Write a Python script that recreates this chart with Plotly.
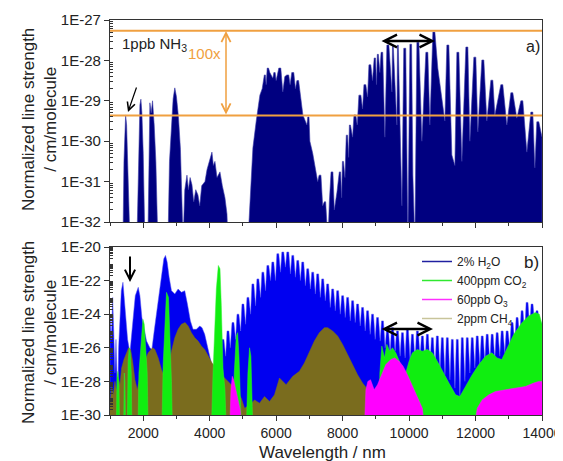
import numpy as np
import plotly.graph_objects as go

# ---------------- data (wavelength nm, log10 line strength) ----------------
nh3 = [
(1390,-32.5),(1420,-30.5),(1470,-29.35),(1500,-29.6),(1540,-30.8),(1600,-32.5),
(1810,-32.5),(1850,-30.5),(1900,-29.1),(1930,-28.96),(1960,-29.3),(2000,-30.3),(2050,-32.5),
(2140,-32.5),(2170,-30.0),(2200,-29.05),(2240,-29.3),(2280,-29.0),(2330,-29.6),(2380,-30.5),(2440,-32.5),
(2745,-32.5),(2790,-30.5),(2850,-29.5),(2900,-28.95),(2950,-28.68),(3000,-28.9),(3060,-29.4),(3120,-30.2),(3200,-32.5),
(3250,-31.2),(3316,-30.84),(3360,-31.2),(3410,-30.9),(3467,-31.08),(3520,-31.5),(3580,-31.2),(3647,-31.33),
(3700,-31.6),(3760,-31.1),(3858,-31.0),(3920,-30.7),(3990,-30.5),(4068,-30.27),(4110,-30.6),(4158,-30.5),
(4220,-30.9),(4309,-30.76),(4380,-31.1),(4459,-31.4),(4520,-31.8),(4550,-32.5),
(5150,-32.5),(5300,-30.17),(5400,-29.5),(5510,-28.86),(5580,-28.7),(5660,-28.36),(5700,-28.6),(5750,-28.19),
(5810,-28.3),(5900,-28.44),(5950,-28.3),(6000,-28.5),(6110,-28.19),(6200,-28.78),(6260,-28.4),(6350,-28.36),
(6420,-28.6),(6500,-28.3),(6580,-28.7),(6650,-28.5),(6715,-28.78),(6805,-29.35),(6925,-29.6),(6970,-29.4),
(7015,-30.0),(7100,-30.3),(7170,-30.6),(7250,-31.0),(7320,-30.84),(7400,-31.6),(7470,-31.5),(7520,-32.5),
(7560,-32.5),(7600,-31.5),(7680,-30.76),(7750,-31.7),(7830,-31.26),(7920,-30.76),(7970,-31.4),(8010,-30.5),
(8070,-30.9),(8130,-29.85),(8180,-30.4),(8220,-29.6),(8300,-29.9),(8370,-29.35),(8440,-29.6),(8520,-28.86),
(8600,-29.2),(8670,-28.6),(8750,-28.9),(8820,-28.11),(8900,-28.5),(8970,-27.94),(9020,-28.6),(9060,-27.85),
(9120,-28.3),(9182,-27.8),(9272,-29.9),(9362,-27.62),(9483,-28.78),(9513,-27.65),(9633,-29.6),(9663,-27.62),
(9783,-31.6),(9870,-27.7),(9964,-32.5),(10050,-27.6),(10114,-30.84),(10174,-32.5),(10265,-27.55),(10385,-30.0),
(10535,-27.8),(10626,-29.6),(10746,-27.3),(10866,-28.2),(11017,-29.1),(11077,-29.5),(11167,-27.62),(11287,-30.34),
(11378,-30.6),(11468,-27.8),(11588,-30.5),(11739,-27.67),(11829,-30.0),(11979,-27.92),(12069,-29.77),(12220,-27.99),
(12340,-29.5),(12491,-28.49),(12581,-29.35),(12791,-28.6),(12942,-29.6),(13092,-28.8),(13243,-29.43),(13393,-29.0),
(13544,-30.27),(13694,-29.28),(13784,-30.66),(13874,-29.52),(13965,-29.77),(14000,-29.9),
]

h2o = [
(1000,-24.2),(1040,-25.5),(1080,-23.0),(1110,-24.9),(1150,-27.5),(1180,-25.5),(1230,-29.3),(1260,-26.0),
(1300,-24.0),(1340,-22.6),(1390,-22.1),(1430,-23.0),(1480,-24.5),(1530,-25.5),(1600,-26.3),(1650,-25.2),
(1700,-24.0),(1760,-22.9),(1850,-22.4),(1900,-22.9),(1960,-24.2),(2030,-25.0),(2100,-25.6),(2200,-26.0),
(2260,-26.1),(2330,-25.0),(2400,-24.0),(2480,-22.8),(2560,-21.4),(2620,-20.7),(2670,-20.5),(2720,-20.9),
(2780,-21.8),(2850,-22.6),(2950,-22.8),(3050,-22.5),(3150,-22.7),(3250,-22.6),(3330,-23.4),(3420,-24.4),
(3500,-24.9),(3600,-24.9),(3700,-24.7),(3770,-24.8),(3850,-25.2),(3950,-26.1),(4070,-27.1),(4150,-27.3),
(4300,-27.5),(4400,-25.5),(4480,-26.5),(4550,-25.0),(4620,-26.0),(4700,-24.5),(4780,-25.5),(4850,-24.0),
(4930,-25.0),(5000,-23.4),(5080,-24.6),(5150,-23.0),(5230,-24.0),(5300,-22.2),(5380,-23.5),(5450,-21.9),
(5530,-23.0),(5600,-21.5),(5680,-22.6),(5750,-21.1),(5830,-22.0),(5900,-20.9),(5980,-22.0),(6050,-20.4),
(6130,-21.5),(6200,-20.3),(6280,-21.2),(6350,-20.3),(6430,-21.6),(6500,-20.5),(6580,-21.8),(6650,-20.8),
(6730,-22.0),(6800,-20.9),(6880,-22.3),(6950,-21.3),(7030,-22.5),(7100,-21.5),(7180,-22.8),(7250,-21.6),
(7330,-23.0),(7400,-21.9),(7480,-23.2),(7550,-22.2),(7630,-23.6),(7700,-22.5),(7780,-23.8),(7850,-22.6),
(7930,-24.0),(8000,-22.9),(8080,-24.2),(8150,-23.0),(8230,-24.4),(8300,-23.2),(8380,-24.5),(8450,-23.4),
(8530,-24.7),(8600,-23.6),(8680,-25.0),(8750,-23.8),(8830,-25.2),(8900,-24.0),(8980,-25.5),(9050,-24.2),
(9130,-25.6),(9200,-24.4),(9280,-26.0),(9350,-24.9),(9430,-26.3),(9500,-24.8),(9580,-26.2),(9650,-25.0),
(9730,-26.5),(9800,-25.1),(9880,-26.6),(9950,-24.9),(10030,-26.7),(10100,-25.2),(10180,-26.8),(10250,-25.0),
(10330,-26.6),(10400,-25.3),(10480,-26.9),(10550,-25.2),(10630,-27.0),(10700,-25.4),(10780,-27.2),(10850,-25.3),
(10930,-27.4),(11000,-25.4),(11080,-27.6),(11150,-25.4),(11230,-27.9),(11300,-25.5),(11380,-28.4),(11450,-25.5),
(11530,-28.9),(11600,-25.4),(11680,-28.0),(11750,-25.4),(11830,-27.5),(11900,-25.4),(11980,-27.2),(12050,-25.3),
(12130,-27.0),(12200,-25.3),(12280,-26.8),(12350,-25.2),(12430,-26.9),(12500,-25.2),(12580,-26.7),(12650,-25.1),
(12730,-26.5),(12800,-25.0),(12880,-26.3),(12950,-25.0),(13030,-26.0),(13100,-24.5),(13180,-25.8),(13250,-24.2),
(13330,-25.5),(13400,-23.8),(13480,-25.2),(13550,-23.3),(13630,-24.8),(13700,-23.4),(13780,-24.6),(13850,-23.8),
(13930,-25.0),(14000,-24.5),
]

ch4 = [
(1000,-29.5),(1050,-28.3),(1100,-28.8),(1150,-28.0),(1200,-28.6),(1250,-27.8),(1300,-28.2),(1350,-27.2),
(1420,-26.7),(1500,-26.3),(1560,-26.0),(1620,-26.1),(1680,-26.8),(1750,-27.9),(1820,-28.5),(1880,-27.9),
(1950,-27.3),(2050,-26.8),(2150,-26.3),(2280,-26.0),(2350,-26.1),(2450,-26.6),(2550,-27.3),(2650,-27.8),
(2750,-27.2),(2850,-26.2),(2950,-25.4),(3050,-24.9),(3150,-24.6),(3260,-24.5),(3350,-24.7),(3450,-25.1),
(3550,-25.4),(3650,-25.6),(3750,-25.9),(3850,-26.1),(3950,-26.5),(4070,-26.9),(4200,-27.2),(4350,-27.6),
(4500,-27.9),(4650,-28.2),(4800,-28.5),(4950,-29.0),(5050,-29.6),(5200,-29.4),(5350,-29.1),(5500,-29.3),
(5650,-28.9),(5800,-29.2),(5950,-28.8),(6100,-27.8),(6300,-28.2),(6500,-27.7),(6700,-27.4),(6850,-26.9),
(7000,-26.2),(7150,-25.6),(7300,-25.1),(7450,-24.8),(7550,-24.8),(7700,-25.0),(7850,-25.3),(8000,-25.8),
(8150,-26.4),(8300,-27.0),(8450,-27.6),(8600,-28.1),(8800,-28.6),(9000,-29.0),(9300,-29.4),(9630,-29.9),
(9700,-30.5),
]

co2 = [
(1000,-31),(1190,-31),(1210,-27.8),(1240,-27.4),(1270,-28.2),(1290,-31),
(1410,-31),(1430,-27.5),(1450,-28.0),(1470,-31),
(1520,-31),(1545,-26.8),(1580,-26.0),(1610,-26.3),(1640,-27.5),(1660,-31),
(1840,-31),(1870,-27.5),(1930,-25.6),(1990,-24.3),(2030,-24.6),(2070,-25.8),(2120,-27.5),(2150,-31),
(2560,-31),(2600,-27.0),(2650,-24.5),(2700,-22.7),(2760,-23.0),(2800,-25.0),(2850,-28.0),(2880,-31),
(4050,-31),(4100,-27.5),(4160,-25.0),(4200,-22.5),(4260,-21.1),(4310,-21.3),(4350,-23.5),(4400,-27.2),(4460,-28.5),(4500,-31),
(4700,-31),(4740,-27.5),(4800,-25.3),(4840,-25.1),(4880,-26.5),(4930,-29.0),(4960,-31),
(5100,-31),(5150,-27.5),(5200,-26.0),(5240,-26.5),(5280,-29.5),(5300,-31),
(9080,-31),(9120,-27.5),(9180,-25.9),(9260,-26.6),(9330,-25.8),(9420,-26.2),(9500,-26.0),(9600,-26.3),
(9750,-27.0),(9900,-27.5),(10000,-26.8),(10100,-26.3),(10250,-26.1),(10400,-26.2),(10550,-26.1),(10700,-26.3),
(10850,-26.8),(11000,-27.4),(11200,-28.1),(11400,-28.8),(11530,-28.9),(11700,-28.3),(11900,-27.6),(12100,-27.0),
(12300,-26.5),(12490,-26.3),(12650,-26.6),(12790,-26.7),(12950,-26.0),(13150,-25.2),(13400,-24.5),(13600,-24.1),
(13800,-23.9),(13920,-24.0),(14000,-24.6),
]

o3 = [
(4600,-31),(4640,-28.5),(4680,-27.7),(4720,-27.9),(4780,-28.4),(4850,-29.0),(4920,-29.7),(4970,-31),
(8650,-31),(8700,-28.5),(8760,-28.0),(8840,-27.9),(8900,-28.3),(8950,-28.5),(9050,-28.2),(9150,-27.7),
(9300,-27.0),(9450,-26.7),(9570,-26.6),(9700,-26.8),(9820,-27.1),(9950,-27.6),(10100,-28.3),(10250,-28.9),
(10400,-29.6),(10480,-31),
(11950,-31),(12050,-29.6),(12200,-29.1),(12400,-28.8),(12600,-28.6),(12900,-28.5),(13200,-28.4),(13500,-28.3),
(13750,-28.1),(13900,-28.0),(14000,-28.0),
]

nh3_levels = [5.4e-28, 4.3e-30]          # orange reference lines (100x)
x_span = [1000, 14000]

legend_names = ["2% H<sub>2</sub>O", "400ppm CO<sub>2</sub>", "60ppb O<sub>3</sub>", "2ppm CH<sub>4</sub>"]
legend_colors = ["#2020a0", "#30e830", "#ff30ff", "#c8c49a"]

x_ticks = [2000, 4000, 6000, 8000, 10000, 12000, 14000]
ya_exp = [-32, -31, -30, -29, -28, -27]
yb_exp = [-30, -28, -26, -24, -22, -20]

# ---------------- helpers ----------------
def widen_peaks(pairs, start, half):
    """Draw each local line maximum as a narrow flat top (line width), so gaps stay thin."""
    out = []
    n = len(pairs)
    for i, (w, v) in enumerate(pairs):
        if w >= start and 0 < i < n - 1 and v > pairs[i - 1][1] and v > pairs[i + 1][1]:
            h = min(half, 0.4 * (w - pairs[i - 1][0]), 0.4 * (pairs[i + 1][0] - w))
            out += [(w - h, v), (w + h, v)]
        else:
            out.append((w, v))
    return out

def poly(pairs):
    wl = [p[0] for p in pairs]
    y = [10.0 ** p[1] for p in pairs]
    return [wl[0]] + wl + [wl[-1]], [1e-40] + y + [1e-40]

# page offset of the figure (body margin) and target plot box in page pixels
OFF = 8
W, H = 563 - OFF, 461 - OFF
BOX_L, BOX_R, BOX_T, BOX_B = 110, 542, 20, 415
L, T = BOX_L - OFF, BOX_T - OFF
PW, PH = BOX_R - BOX_L, BOX_B - BOX_T
R, B = W - L - PW, H - T - PH
def px(X):
    return (X - BOX_L) / PW
def py(Y):
    return (BOX_B - Y) / PH

FONT = "Liberation Sans, Arial, sans-serif"
fig = go.Figure()

# panel a
x, y = poly(widen_peaks(nh3, 5000, 30))
fig.add_trace(go.Scatter(x=x, y=y, fill="toself", fillcolor="#000080", mode="lines",
                         line=dict(color="#3a3aa8", width=0.6), showlegend=False,
                         xaxis="x", yaxis="y", hoverinfo="skip"))
for lv in nh3_levels:
    fig.add_trace(go.Scatter(x=x_span, y=[lv, lv], mode="lines",
                             line=dict(color="#f0a040", width=2), showlegend=False,
                             xaxis="x", yaxis="y"))

# panel b
series = [(widen_peaks(h2o, 4400, 28), "#0000f0", "#5050f0"), (ch4, "#7a6c1e", "#7a6c1e"),
          (co2, "#10ee10", "#30f030"), (o3, "#ff00ff", "#ff20ff")]
for data, fc, lc in series:
    x, y = poly(data)
    fig.add_trace(go.Scatter(x=x, y=y, fill="toself", fillcolor=fc, mode="lines",
                             line=dict(color=lc, width=0.5), showlegend=False,
                             xaxis="x2", yaxis="y2", hoverinfo="skip"))
for nm, c in zip(legend_names, legend_colors):
    fig.add_trace(go.Scatter(x=[None], y=[None], mode="lines", name=nm,
                             line=dict(color=c, width=1.5), xaxis="x2", yaxis="y2"))

dom_b = [0, (BOX_B - 247) / PH]
dom_a = [(BOX_B - 222) / PH, 1]

def minor_vals(e0, e1):
    return [m * 10.0 ** e for e in range(e0, e1) for m in range(2, 10)]

line_common = dict(showline=True, linecolor="#333333", linewidth=1.2, mirror=True,
                   ticks="outside", tickcolor="#333333", showgrid=False, zeroline=False,
                   automargin=False)

fig.update_layout(
    width=W, height=H, margin=dict(l=L, r=R, t=T, b=B),
    paper_bgcolor="white", plot_bgcolor="white",
    font=dict(family=FONT, color="#222222"),
    xaxis=dict(domain=[0, 1], anchor="y", range=[1000, 14000], tickvals=x_ticks,
               showticklabels=False, ticklen=5,
               minor=dict(ticks="outside", ticklen=3, dtick=1000, tick0=1000), **line_common),
    yaxis=dict(domain=dom_a, anchor="x", type="log", range=[-32, -27],
               tickvals=[10.0 ** e for e in ya_exp], ticktext=["1E%d" % e for e in ya_exp],
               ticklen=5, tickfont=dict(family=FONT, size=15, color="#222222"),
               minor=dict(ticks="inside", ticklen=3, tickvals=minor_vals(-32, -27)), **line_common),
    xaxis2=dict(domain=[0, 1], anchor="y2", range=[1000, 14000], tickvals=x_ticks,
                ticktext=[str(v) for v in x_ticks], ticklen=5,
                tickfont=dict(family=FONT, size=14, color="#222222"),
                minor=dict(ticks="outside", ticklen=3, dtick=1000, tick0=1000), **line_common),
    yaxis2=dict(domain=dom_b, anchor="x2", type="log", range=[-30, -20],
                tickvals=[10.0 ** e for e in yb_exp], ticktext=["1E%d" % e for e in yb_exp],
                ticklen=5, tickfont=dict(family=FONT, size=15, color="#222222"),
                minor=dict(ticks="inside", ticklen=3, tickvals=minor_vals(-30, -20)), **line_common),
    legend=dict(x=px(417), y=py(247), xanchor="left", yanchor="top",
                bgcolor="rgba(0,0,0,0)", font=dict(family=FONT, size=12, color="#222222"),
                tracegroupgap=0, itemwidth=30),
)

ann = []
def text(X, Y, s, size=14, color="#222222", xanchor="left", angle=0):
    ann.append(dict(xref="paper", yref="paper", x=px(X), y=py(Y), text=s, showarrow=False,
                    xanchor=xanchor, yanchor="middle", textangle=angle,
                    font=dict(family=FONT, size=size, color=color)))
def arrow(X0, Y0, X1, Y1, color="black", width=2, both=False, head=2, size=1):
    ann.append(dict(xref="paper", yref="paper", x=px(X1), y=py(Y1), ax=X0 - X1, ay=Y0 - Y1,
                    axref="pixel", ayref="pixel", text="", showarrow=True,
                    arrowhead=head, startarrowhead=head, arrowsize=size, startarrowsize=size,
                    arrowwidth=width, arrowcolor=color,
                    arrowside="end+start" if both else "end"))

text(120, 44, "1ppb NH<sub>3</sub>", size=15)
text(186, 53, "100x", size=15, color="#f0a040")
text(524, 46, "a)", size=16)
text(522, 263, "b)", size=17)
text(39, 120, "Normalized line strength<br>/ cm/molecule", size=17, xanchor="center", angle=-90)
text(39, 333, "Normalized line strength<br>/ cm/molecule", size=17, xanchor="center", angle=-90)
text(322, 452, "Wavelength / nm", size=17, xanchor="center")

arrow(226, 116, 226, 31, color="#f0a040", width=1.5, both=True, head=5, size=1.2)
arrow(380, 41, 435, 41, color="black", width=2.5, both=True, head=5, size=1)
arrow(380, 329, 433, 329, color="black", width=2.5, both=True, head=5, size=1)
arrow(137, 86, 128, 112, color="black", width=1.2, head=5, size=1.3)
arrow(130, 255, 130, 282, color="black", width=2, head=5, size=1)

fig.update_layout(annotations=ann)
fig.write_html("out.html")
